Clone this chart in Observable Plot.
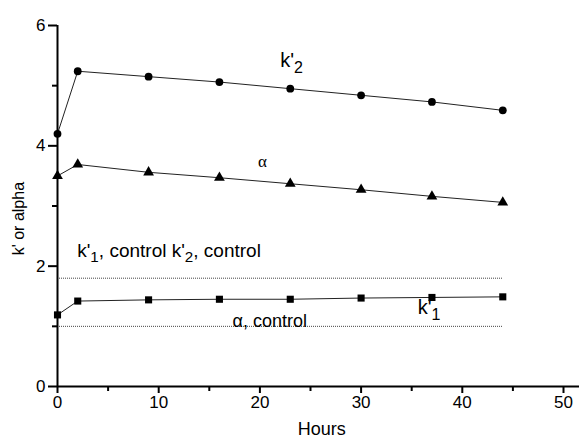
<!DOCTYPE html>
<html>
<head>
<meta charset="utf-8">
<script src="https://cdn.jsdelivr.net/npm/d3@7"></script>
<script src="https://cdn.jsdelivr.net/npm/@observablehq/plot@0.6"></script>
<style>
  html, body { margin: 0; padding: 0; background: #fff; }
  #chart svg { display: block; }
</style>
</head>
<body>
<div id="chart"></div>
<script>
// ---- data ----
const hours = [0, 2, 9, 16, 23, 30, 37, 44];
const k2 = [4.20, 5.24, 5.15, 5.06, 4.95, 4.84, 4.73, 4.59];
const alpha = [3.50, 3.69, 3.56, 3.47, 3.37, 3.27, 3.16, 3.06];
const k1 = [1.19, 1.42, 1.44, 1.45, 1.45, 1.47, 1.48, 1.49];
const controlLevels = [1.80, 1.00];     // k' control, alpha control
const controlSpan = [0, 44];
const yTicks = [0, 2, 4, 6];
const yMinor = [1, 3, 5];
const xTicks = [0, 10, 20, 30, 40, 50];
const xMinor = [5, 15, 25, 35, 45];
const labelText = ["k'_2", "α", "k'_1, control k'_2, control", "α, control", "k'_1"];
const labelX = [22.0, 19.8, 1.95, 17.3, 35.6];
const labelY = [5.41, 3.74, 2.26, 1.08, 1.31];
const labelSize = [20, 17, 19, 18, 20];
const labelFont = ["sans", "serif", "sans", "sans", "sans"];

const sans = "'Liberation Sans', Arial, sans-serif";
const serif = "'Liberation Serif', 'Times New Roman', serif";

const W = 579, H = 440, ML = 57, MR = 16, MT = 25, MB = 54;
const X0 = 0, X1 = 50, Y0 = 0, Y1 = 6;
const frameW = W - ML - MR, frameH = H - MT - MB;
const xPerPx = (X1 - X0) / frameW, yPerPx = (Y1 - Y0) / frameH;

const series = [
  {name: "k2", values: k2, symbol: "circle", r: 3.9},
  {name: "alpha", values: alpha, symbol: "triangle", r: 4},
  {name: "k1", values: k1, symbol: "square", r: 4}
];
const rows = series.flatMap(s => hours.map((h, i) => ({series: s.name, x: h, y: s.values[i]})));
const controls = controlLevels.map(v => ({y: v, x1: controlSpan[0], x2: controlSpan[1]}));
const labels = labelText.map((t, i) => ({t, x: labelX[i], y: labelY[i], size: labelSize[i], font: labelFont[i]}));

const tickY = (vals, len) => Plot.ruleY(vals, {y: d => d, x1: X0 - len * xPerPx, x2: X0, stroke: "#000", strokeWidth: 2});
const tickX = (vals, len) => Plot.ruleX(vals, {x: d => d, y1: Y0 - len * yPerPx, y2: Y0, stroke: "#000", strokeWidth: 2});

const marks = [
  // control lines
  Plot.ruleY(controls, {y: "y", x1: "x1", x2: "x2", stroke: "#444", strokeWidth: 1, strokeDasharray: "1,1"}),
  // data lines
  Plot.line(rows, {x: "x", y: "y", z: "series", stroke: "#222", strokeWidth: 1}),
  // points
  ...series.map(s => Plot.dot(rows.filter(d => d.series === s.name), {x: "x", y: "y", symbol: s.symbol, r: s.r, fill: "#000", stroke: "none"})),
  // axis lines
  Plot.ruleX([X0], {y1: Y0, y2: Y1, stroke: "#000", strokeWidth: 2}),
  Plot.ruleY([Y0], {x1: X0, x2: X1 + 16 * xPerPx, stroke: "#000", strokeWidth: 2}),
  // tick marks (outward)
  tickY(yTicks, 9), tickY(yMinor, 5),
  tickX(xTicks, 7), tickX(xMinor, 5),
  // tick labels
  Plot.axisY({ticks: yTicks, tickSize: 0, tickPadding: 12, tickFormat: "d", fontSize: 17, label: null, fontFamily: sans}),
  Plot.axisX({ticks: xTicks, tickSize: 0, tickPadding: 9, tickFormat: "d", fontSize: 17, label: null, fontFamily: sans}),
  // axis titles
  Plot.text(["k' or alpha"], {frameAnchor: "left", y: [2.79], dx: -39, rotate: -90, textAnchor: "middle", lineAnchor: "middle", fontSize: 16, fontFamily: sans, fill: "#000"}),
  Plot.text(["Hours"], {frameAnchor: "bottom", x: [26.1], dy: 43, textAnchor: "middle", lineAnchor: "middle", fontSize: 18, fontFamily: sans, fill: "#000"}),
  // annotations
  ...labels.map(l => Plot.text([l], {x: "x", y: "y", text: "t", textAnchor: "start", fontSize: l.size, fontFamily: l.font === "serif" ? serif : sans, fill: "#000"}))
];

const chart = Plot.plot({
  width: W,
  height: H,
  marginLeft: ML,
  marginRight: MR,
  marginTop: MT,
  marginBottom: MB,
  x: {domain: [X0, X1], axis: null},
  y: {domain: [Y0, Y1], axis: null},
  style: {fontFamily: sans, color: "#000", background: "#fff", overflow: "visible"},
  marks
});

// render subscripts: "_d" -> subscript tspan
d3.select(chart).selectAll("text").each(function () {
  const el = this;
  const txt = el.textContent;
  if (!txt.includes("_")) return;
  const parts = txt.split(/_(\d)/);
  while (el.firstChild) el.removeChild(el.firstChild);
  parts.forEach((p, i) => {
    if (p === "") return;
    const ts = document.createElementNS("http://www.w3.org/2000/svg", "tspan");
    ts.textContent = p;
    if (i % 2 === 1) {
      ts.setAttribute("dy", "0.35em");
      ts.setAttribute("font-size", "0.8em");
    } else if (i > 0) {
      ts.setAttribute("dy", "-0.28em");
    }
    el.appendChild(ts);
  });
});

document.getElementById("chart").appendChild(chart);
</script>
</body>
</html>
